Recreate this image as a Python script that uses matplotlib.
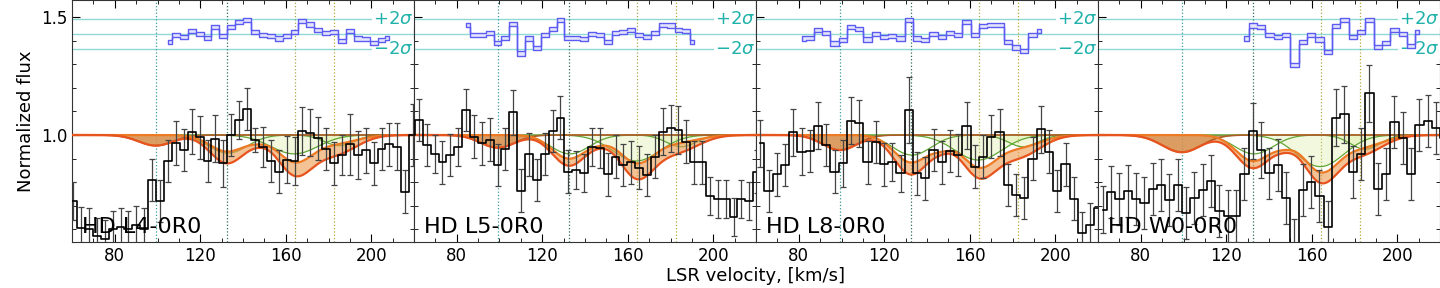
import numpy as np
import matplotlib
matplotlib.use('Agg')
import matplotlib.pyplot as plt
from matplotlib.ticker import MultipleLocator

# ---------------- data ----------------
labels = ['HD L4-0R0', 'HD L5-0R0', 'HD L8-0R0', 'HD W0-0R0']

# velocity grid of each spectrum: first bin centre and bin width [km/s]
grid_start = [60.5, 58.6, 62.0, 62.2]
grid_step = [3.70, 3.68, 3.86, 3.90]

flux_l4 = [0.72, 0.605, 0.60, 0.57, 0.56, 0.60, 0.61, 0.60, 0.62, 0.60,
           0.81, 0.72, 0.89, 0.966, 0.936, 1.014, 0.99, 0.89, 0.985, 0.88,
           1.00, 1.064, 1.11, 0.98, 0.95, 0.89, 0.845, 0.895, 0.89, 1.017,
           1.01, 0.986, 0.94, 0.88, 0.915, 0.96, 0.915, 0.936, 0.88, 0.94,
           0.96, 0.95, 0.76, 1.00]
err_l4 = [0.08, 0.09, 0.09, 0.08, 0.08, 0.08, 0.08, 0.08, 0.08, 0.09,
          0.09, 0.09, 0.09, 0.093, 0.09, 0.095, 0.09, 0.09, 0.10, 0.10,
          0.09, 0.08, 0.09, 0.05, 0.085, 0.09, 0.09, 0.10, 0.10, 0.10,
          0.10, 0.09, 0.09, 0.09, 0.085, 0.13, 0.10, 0.095, 0.09, 0.09,
          0.09, 0.10, 0.09, 0.13]

flux_l5 = [1.00, 1.064, 0.958, 0.92, 0.884, 0.915, 0.95, 1.106, 0.993, 0.965,
           0.98, 0.873, 0.94, 1.097, 0.764, 0.918, 0.81, 0.92, 1.017, 1.074,
           0.845, 0.852, 0.84, 0.95, 0.944, 0.833, 0.908, 0.873, 0.884, 0.862,
           0.83, 0.908, 1.014, 1.028, 1.021, 0.972, 0.884, 0.884, 0.74, 0.73,
           0.73, 0.654, 0.73, 0.72, 0.845]
err_l5 = [0.09, 0.09, 0.09, 0.08, 0.09, 0.09, 0.08, 0.09, 0.09, 0.09,
          0.09, 0.09, 0.09, 0.095, 0.09, 0.09, 0.09, 0.09, 0.09, 0.09,
          0.09, 0.08, 0.08, 0.08, 0.085, 0.09, 0.09, 0.09, 0.09, 0.09,
          0.09, 0.09, 0.10, 0.10, 0.10, 0.09, 0.09, 0.09, 0.08, 0.08,
          0.08, 0.08, 0.08, 0.08, 0.09]

flux_l8 = [0.965, 0.763, 0.833, 0.873, 1.011, 0.93, 0.932, 1.04, 0.958, 0.845,
           0.88, 1.06, 1.05, 0.884, 0.97, 0.876, 0.884, 0.837, 1.106, 0.837,
           0.816, 0.936, 0.884, 0.932, 0.915, 1.04, 0.866, 0.908, 0.993, 1.011,
           0.788, 0.746, 0.734, 0.90, 1.025, 0.93, 0.763, 0.876, 0.73, 0.583,
           0.62, 0.69]
err_l8 = [0.10, 0.09, 0.09, 0.09, 0.10, 0.10, 0.09, 0.10, 0.09, 0.09,
          0.10, 0.10, 0.10, 0.09, 0.09, 0.09, 0.08, 0.08, 0.14, 0.09,
          0.09, 0.09, 0.09, 0.09, 0.09, 0.10, 0.09, 0.09, 0.09, 0.10,
          0.09, 0.09, 0.09, 0.09, 0.10, 0.09, 0.09, 0.09, 0.09, 0.09,
          0.09, 0.09]

flux_w0 = [0.683, 0.757, 0.73, 0.764, 0.73, 0.71, 0.77, 0.79, 0.726, 0.788,
           0.668, 0.733, 0.767, 0.805, 0.678, 0.657, 0.657, 0.833, 1.017, 0.936,
           0.837, 0.873, 0.734, 0.534, 0.767, 0.80, 0.74, 0.612, 1.074, 1.088,
           0.845, 0.92, 1.177, 0.77, 0.833, 1.056, 0.986, 0.833, 1.042, 1.06,
           1.031, 0.986]
err_w0 = [0.10, 0.11, 0.11, 0.11, 0.11, 0.11, 0.11, 0.11, 0.11, 0.11,
          0.11, 0.11, 0.11, 0.11, 0.11, 0.11, 0.11, 0.11, 0.12, 0.12,
          0.11, 0.11, 0.11, 0.11, 0.11, 0.11, 0.11, 0.11, 0.12, 0.12,
          0.11, 0.11, 0.12, 0.11, 0.11, 0.11, 0.11, 0.11, 0.11, 0.11,
          0.11, 0.11]

# residuals (in units of sigma) and index of the first bin they cover
resid_l4 = [-1.04, -0.1, -0.35, 0.35, 0.0, -0.5, 0.9, -0.3, 0.9, 1.55,
            1.87, 0.26, -0.1, -0.3, -0.6, -0.3, 0.26, 1.7, 1.26, 0.48,
            0.17, 0.26, -0.9, 0.4, -0.6, -0.7, -1.17, -0.83, -0.52]
resid_l5 = [1.2, -0.1, -0.17, 0.17, -1.17, -0.5, 1.35, -2.57, -0.6, -1.8,
            -0.17, 0.7, 1.87, -0.48, -0.52, -0.7, 0.04, -0.1, -1.04, 0.13,
            0.26, 0.57, -0.1, -0.4, 0.17, 1.2, 1.1, 0.57, 0.4, -1.04]
resid_l8 = [-0.6, -0.52, 0.57, 0.17, -1.26, -0.83, 0.9, 0.7, -0.74, 0.04,
            -0.4, -0.3, -0.6, 1.87, -0.6, -0.83, 0.04, -0.4, 0.17, -0.17,
            1.57, -0.1, 1.0, 1.2, 1.2, -1.04, -1.78, -2.2, -0.17, 0.4]
resid_w0 = [-0.6, 1.13, 0.9, -0.1, -0.4, -0.1, -4.1, -1.04, -0.1, -0.74,
            -2.35, 1.0, 1.87, -0.4, 0.26, 1.87, -1.7, -1.17, 0.57, 0.04,
            -1.6, 0.26]
resid_first = [12, 7, 5, 17]

# fitted absorption components: centres / widths [km/s] and depths
comp_v = [99.2, 132.6, 147.0, 164.2, 183.0]
comp_w = [8.0, 8.0, 5.0, 8.0, 10.0]
depth_lo = [[0.045, 0.12, 0.015, 0.16, 0.08],
            [0.054, 0.13, 0.015, 0.175, 0.07],
            [0.064, 0.167, 0.034, 0.168, 0.09],
            [0.073, 0.14, 0.03, 0.19, 0.08]]
depth_hi = [[0.0, 0.07, 0.015, 0.11, 0.035],
            [0.0, 0.10, 0.015, 0.115, 0.03],
            [0.0, 0.116, 0.035, 0.13, 0.05],
            [0.0, 0.11, 0.027, 0.15, 0.05]]
width_99 = [8.0, 8.0, 8.0, 9.0]

green_v = [133.0, 164.0, 185.0]
green_w = [9.0, 11.0, 7.0]
green_d = [[0.077, 0.08, 0.045],
           [0.08, 0.11, 0.05],
           [0.085, 0.106, 0.05],
           [0.08, 0.134, 0.06]]
green_fill = [False, True, True]

vlines_v = [99.2, 132.6, 164.2, 182.6]
vlines_c = ['#3a9a9a', '#2f6f5a', '#a8a84a', '#b8a838']

resid_centre = 1.428
resid_2sig = 0.0645

fluxes = [flux_l4, flux_l5, flux_l8, flux_w0]
errs = [err_l4, err_l5, err_l8, err_w0]
resids = [resid_l4, resid_l5, resid_l8, resid_w0]


def profile(v, centres, widths, depths):
    out = np.ones_like(v)
    for c, w, d in zip(centres, widths, depths):
        out -= d * np.exp(-0.5 * ((v - c) / w) ** 2)
    return out


fig, axes = plt.subplots(1, 4, figsize=(14.4, 2.88), dpi=100, sharey=True)
fig.subplots_adjust(left=0.05, right=1.0, bottom=0.16, top=1.0, wspace=0)

vv = np.linspace(60, 222, 1200)

for i, ax in enumerate(axes):
    vel = grid_start[i] + grid_step[i] * np.arange(len(fluxes[i]))
    flux = np.array(fluxes[i])
    err = np.array(errs[i])

    for xv, c in zip(vlines_v, vlines_c):
        ax.axvline(xv, color=c, ls=':', lw=0.9, zorder=1)

    for yv in (resid_centre - resid_2sig, resid_centre, resid_centre + resid_2sig):
        ax.axhline(yv, color='#20b2aa', lw=1.0, alpha=0.5, zorder=1)

    widths_i = list(comp_w)
    widths_i[0] = width_99[i]
    lo = profile(vv, comp_v, widths_i, depth_lo[i])
    hi = profile(vv, comp_v, widths_i, depth_hi[i])
    c99 = profile(vv, comp_v[:1], widths_i[:1], depth_lo[i][:1])

    for gv, gw, gd, gf in zip(green_v, green_w, green_d[i], green_fill):
        g = profile(vv, [gv], [gw], [gd])
        if gf:
            ax.fill_between(vv, g, 1.0, color='#d6e98f', alpha=0.3, lw=0, zorder=2)
        ax.plot(vv, g, color='#62a636', lw=0.9, zorder=2.2)

    ax.fill_between(vv, c99, 1.0, color='#a86e38', alpha=0.65, lw=0, zorder=2.5)
    ax.fill_between(vv, lo, hi, color='#ec9c50', alpha=0.6, lw=0, zorder=2.5)
    ax.plot(vv, c99, color='#b05c28', lw=1.2, zorder=3)
    ax.plot(vv, hi, color='#ee7a24', lw=1.6, zorder=3)
    ax.plot(vv, lo, color='#e8541e', lw=1.6, zorder=3)

    ax.errorbar(vel, flux, yerr=err, fmt='none', ecolor='#444444', elinewidth=0.9,
                capsize=2, capthick=0.9, zorder=4)
    ax.plot(vel, flux, drawstyle='steps-mid', color='black', lw=1.2, zorder=4)

    # residuals
    r = np.array(resids[i]) * resid_2sig / 2 + resid_centre
    rv = vel[resid_first[i]:resid_first[i] + len(r)]
    ax.fill_between(rv, r - 0.009, r + 0.009, step='mid', facecolor='#e4e4fd',
                    edgecolor='#5c5cf2', lw=1.0, zorder=6)

    ax.text(219.5, resid_centre + resid_2sig, r'$+2\sigma$', color='#20b2aa',
            fontsize=13, ha='right', va='center', zorder=5,
            bbox=dict(facecolor='white', edgecolor='none', pad=0.5))
    ax.text(219.5, resid_centre - resid_2sig, r'$-2\sigma$', color='#20b2aa',
            fontsize=13, ha='right', va='center', zorder=5,
            bbox=dict(facecolor='white', edgecolor='none', pad=0.5))

    ax.text(0.03, 0.037, labels[i], transform=ax.transAxes, fontsize=16,
            ha='left', va='baseline', zorder=7)

    ax.set_xlim(60, 220)
    ax.set_ylim(0.547, 1.572)
    ax.xaxis.set_major_locator(MultipleLocator(40))
    ax.xaxis.set_minor_locator(MultipleLocator(10))
    ax.yaxis.set_major_locator(MultipleLocator(0.5))
    ax.yaxis.set_minor_locator(MultipleLocator(0.1))
    ax.tick_params(which='both', direction='in', top=True, right=True, labelsize=12)
    ax.tick_params(which='major', length=6)
    ax.tick_params(which='minor', length=3)
    for s in ax.spines.values():
        s.set_color('#333333')

axes[0].set_ylabel('Normalized flux', fontsize=13)
fig.text(0.525, 0.01, 'LSR velocity, [km/s]', ha='center', va='bottom', fontsize=13)

fig.savefig('out.png', dpi=100)
